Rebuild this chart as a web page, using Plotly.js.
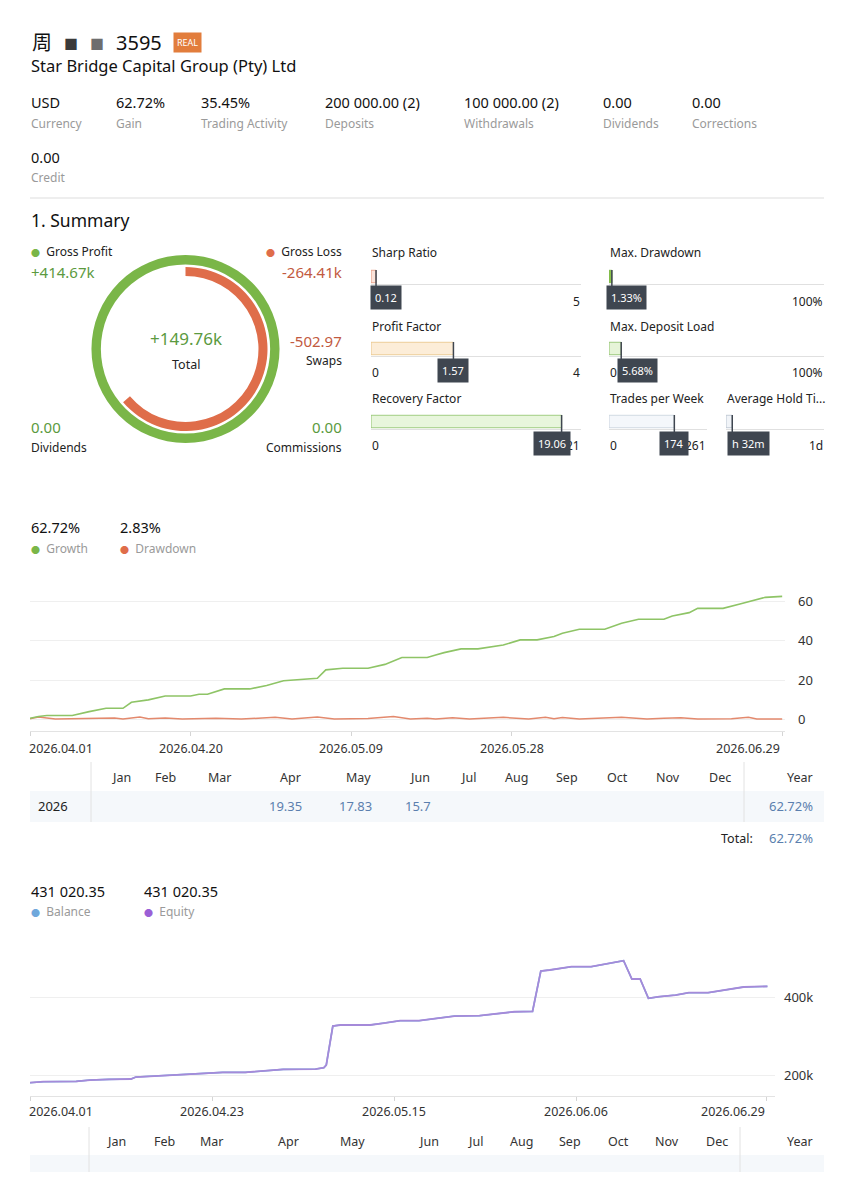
<!DOCTYPE html>
<html><head><meta charset="utf-8">
<script src="https://cdn.plot.ly/plotly-3.0.1.min.js"></script>
<style>html,body{margin:0;padding:0;background:#fff}#chart{width:854px;height:1200px}</style>
</head><body><div id="chart"></div>
<script>
// ---------- DATA ----------
const accountTitle = '3595';
const broker = 'Star Bridge Capital Group (Pty) Ltd';
const statValues = ['USD','62.72%','35.45%','200 000.00 (2)','100 000.00 (2)','0.00','0.00'];
const statLabels = ['Currency','Gain','Trading Activity','Deposits','Withdrawals','Dividends','Corrections'];
const creditValue = '0.00';

const grossProfit = 414.67;   // k
const grossLoss = 264.41;     // k
const totalText = '+149.76k';
const swapsText = '-502.97';
const dividendsText = '0.00';
const commissionsText = '0.00';

const metricNames  = ['Sharp Ratio','Max. Drawdown','Profit Factor','Max. Deposit Load','Recovery Factor','Trades per Week','Average Hold Ti...'];
const metricValues = [0.12, 1.33, 1.57, 5.68, 19.06, 174, 92];
const metricMax    = [5, 100, 4, 100, 21, 261, 1440];
const metricText   = ['0.12','1.33%','1.57','5.68%','19.06','174','h 32m'];
const metricMinLbl = ['','','0','0','0','0',''];
const metricMaxLbl = ['5','100%','4','100%','21','261','1d'];

const growthDates = ['2026-04-01','2026-04-02','2026-04-03','2026-04-06','2026-04-08','2026-04-10','2026-04-12','2026-04-13','2026-04-15','2026-04-17',
 '2026-04-20','2026-04-21','2026-04-22','2026-04-24','2026-04-27','2026-04-29','2026-05-01','2026-05-04','2026-05-05','2026-05-06',
 '2026-05-08','2026-05-11','2026-05-13','2026-05-15','2026-05-18','2026-05-19','2026-05-20','2026-05-22','2026-05-24','2026-05-27',
 '2026-05-29','2026-05-31','2026-06-02','2026-06-03','2026-06-05','2026-06-08','2026-06-10','2026-06-12','2026-06-15','2026-06-16',
 '2026-06-18','2026-06-19','2026-06-22','2026-06-24','2026-06-26','2026-06-27','2026-06-29'];
const growthValues = [0.5,1.4,1.9,1.9,3.9,5.6,5.6,8.7,9.9,11.9,
 11.9,12.8,12.8,15.5,15.5,17.2,19.7,20.4,20.9,25.2,
 26,26,28,31.5,31.5,32.8,34,35.9,35.9,37.9,
 40.5,40.5,42.2,43.9,45.9,45.9,49,51,51,52.7,
 54.4,56.6,56.6,58.8,60.9,62.2,62.7];

const drawdownDates = ['2026-04-01','2026-04-02','2026-04-04','2026-04-11','2026-04-12','2026-04-14','2026-04-15','2026-04-17','2026-04-19','2026-04-23',
 '2026-04-26','2026-04-30','2026-05-02','2026-05-05','2026-05-07','2026-05-11','2026-05-14','2026-05-16','2026-05-18','2026-05-19',
 '2026-05-21','2026-05-23','2026-05-27','2026-05-30','2026-06-01','2026-06-02','2026-06-03','2026-06-05','2026-06-10','2026-06-13',
 '2026-06-15','2026-06-17','2026-06-19','2026-06-23','2026-06-25','2026-06-26','2026-06-29'];
const drawdownValues = [0.3,1.2,0.1,0.6,0.1,1.2,0.3,0.7,0.1,0.5,
 0.1,1.0,0.1,1.2,0.2,0.4,1.4,0.1,0.5,0.1,
 0.8,0.1,1.0,0.1,1.0,0.3,0.9,0.1,1.1,0.1,
 0.5,0.8,0.1,0.3,1.0,0.1,0.1];
const growthTickDates = ['2026-04-01','2026-04-20','2026-05-09','2026-05-28','2026-06-29'];
const growthTickText  = ['2026.04.01','2026.04.20','2026.05.09','2026.05.28','2026.06.29'];
const growthYTicks = [0,20,40,60];

const months = ['Jan','Feb','Mar','Apr','May','Jun','Jul','Aug','Sep','Oct','Nov','Dec'];
const tableYear = '2026';
const monthGains = ['','','','19.35','17.83','15.7','','','','','',''];
const yearGain = '62.72%';
const totalGain = '62.72%';

const balanceText = '431 020.35';
const equityText = '431 020.35';
const balanceDates = ['2026-04-01 00:00','2026-04-02 15:00','2026-04-06 14:00','2026-04-08 06:00','2026-04-10 13:00','2026-04-13 05:00','2026-04-13 19:00','2026-04-15 12:00','2026-04-17 10:00','2026-04-20 10:00',
 '2026-04-22 10:00','2026-04-24 07:00','2026-04-27 00:00','2026-04-29 14:00','2026-05-01 14:00','2026-05-05 12:00','2026-05-06 12:00','2026-05-06 19:00','2026-05-07 14:00','2026-05-08 12:00',
 '2026-05-12 02:00','2026-05-13 19:00','2026-05-15 17:00','2026-05-18 00:00','2026-05-20 00:00','2026-05-22 07:00','2026-05-25 07:00','2026-05-27 14:00','2026-05-29 12:00','2026-05-31 17:00',
 '2026-06-01 17:00','2026-06-02 19:00','2026-06-04 02:00','2026-06-05 10:00','2026-06-07 19:00','2026-06-09 17:00','2026-06-11 17:00','2026-06-12 17:00','2026-06-13 17:00','2026-06-14 17:00',
 '2026-06-16 00:00','2026-06-18 00:00','2026-06-19 14:00','2026-06-21 22:00','2026-06-23 22:00','2026-06-26 05:00','2026-06-27 12:00','2026-06-29 02:00'];
const balanceValues = [182000,184600,185500,188900,190600,191500,196600,198300,201700,203400,
 205100,208500,208500,212800,216200,217100,220500,227400,327400,330000,
 330000,335000,341000,341000,346000,353000,353800,359800,364000,365000,
 468400,471000,475000,479500,479500,488000,494900,447900,447900,398300,
 402600,406800,412800,412800,419700,427400,428200,429000];
const equityValues = balanceValues.slice();
const balanceTickDates = ['2026-04-01','2026-04-23','2026-05-15','2026-06-06','2026-06-29'];
const balanceTickText  = ['2026.04.01','2026.04.23','2026.05.15','2026.06.06','2026.06.29'];
const balanceYTicks = [200000,400000];
const balanceYTickText = ['200k','400k'];

// ---------- HELPERS ----------
const W = 854, H = 1200;
const FONT = 'Noto Sans, Noto Sans CJK SC, sans-serif';
const GREEN = '#7ab648', ORANGE = '#df6d4a';
const GTXT = '#5b9a40', RTXT = '#c25a40', GREY = '#9a9a9a', BLUE = '#5b7fae';
const X = v => v / W, Y = v => 1 - v / H;
const ann = [], shp = [];
function T(x, y, text, size, color, anchor, extra) {
  ann.push(Object.assign({xref:'paper', yref:'paper', x:X(x), y:Y(y), text:text, showarrow:false,
    xanchor:anchor||'left', yanchor:'middle', font:{family:FONT, size:size, color:color}}, extra||{}));
}
function hline(x0, x1, y, color) {
  shp.push({type:'line', xref:'paper', yref:'paper', x0:X(x0), x1:X(x1), y0:Y(y), y1:Y(y), line:{color:color, width:1}, layer:'below'});
}
function vline(x, y0, y1, color) {
  shp.push({type:'line', xref:'paper', yref:'paper', x0:X(x), x1:X(x), y0:Y(y0), y1:Y(y1), line:{color:color, width:1}, layer:'below'});
}
function rect(x0, y0, x1, y1, fill) {
  shp.push({type:'rect', xref:'paper', yref:'paper', x0:X(x0), x1:X(x1), y0:Y(y1), y1:Y(y0), fillcolor:fill, line:{width:0}, layer:'below'});
}
const dot = c => '<span style="color:' + c + ';font-size:9px">●</span>  ';

// ---------- HEADER ----------
T(30, 42, '周', 20, '#111');
T(62, 44, '■', 14, '#3a3a3a');
T(88, 44, '■', 14, '#6e6e6e');
T(114, 42, accountTitle, 20, '#111');
T(187, 42, 'REAL', 9, '#fff', 'center', {bgcolor:'#e27d3c', borderpad:3});
T(29, 65, broker, 16.5, '#111');
const statX = [30,115,200,324,463,602,691];
statValues.forEach((v,i) => T(statX[i]-1, 102, v, 14.5, '#111'));
statLabels.forEach((v,i) => T(statX[i]-1, 123, v, 12, GREY));
T(29, 157, creditValue, 14.5, '#111');
T(29, 178, 'Credit', 12, GREY);
hline(30, 824, 198, '#dddddd');
T(29, 220, '1. Summary', 17.5, '#111');

// ---------- SUMMARY ----------
T(29, 252, dot(GREEN) + 'Gross Profit', 12, '#222');
T(29, 272, '+' + grossProfit + 'k', 15, GTXT);
T(344, 252, dot(ORANGE) + 'Gross Loss', 12, '#222', 'right');
T(344, 272, '-' + grossLoss + 'k', 15, RTXT, 'right');
T(186, 339, totalText, 17, GTXT, 'center');
T(186, 364, 'Total', 12.5, '#222', 'center');
T(344, 341, swapsText, 15, RTXT, 'right');
T(344, 361, 'Swaps', 12, '#222', 'right');
T(29, 427, dividendsText, 15, GTXT);
T(29, 448, 'Dividends', 12, '#222');
T(344, 427, commissionsText, 15, GTXT, 'right');
T(344, 448, 'Commissions', 12, '#222', 'right');

const cx = 185.5, cy = 349;
const traces = [];
traces.push({type:'pie', values:[grossProfit], labels:['Gross Profit'], marker:{colors:[GREEN], line:{width:0}},
  hole:0.9, sort:false, direction:'clockwise', rotation:0, textinfo:'none', hoverinfo:'skip', showlegend:false,
  domain:{x:[X(cx-94), X(cx+94)], y:[Y(cy+94), Y(cy-94)]}});
traces.push({type:'pie', values:[grossLoss, grossProfit-grossLoss], labels:['Gross Loss','rest'],
  marker:{colors:[ORANGE,'rgba(0,0,0,0)'], line:{width:0}},
  hole:0.89, sort:false, direction:'clockwise', rotation:0, textinfo:'none', hoverinfo:'skip', showlegend:false,
  domain:{x:[X(cx-82), X(cx+82)], y:[Y(cy+82), Y(cy-82)]}});

// ---------- METRIC BARS ----------
const boxes = [ // x0,x1,y0,y1 (bar box)
  [371,581,270,283],[609,824,270,283],[371,581,342,355],[609,824,342,355],[371,581,415,428],[609,707,415,428],[726,824,415,428]];
const titlePos = [[371,253],[609,253],[371,326],[609,326],[371,398],[609,398],[726,398]];
const barFill = ['#fbe3da','#8bc34a','#fcedd8','#e6f4d8','#e8f6dc','#f4f7fb','#f1f4f8'];
const barLine = ['#e59a80','#7ab648','#e9c587','#8bbf68','#8fc26c','#c8d2dd','#b9c3cf'];
const tipShift = [10, 15, 0, 16, -10, 0, 16];
const layout = {width:W, height:H, margin:{l:0,r:0,t:0,b:0}, paper_bgcolor:'#fff', plot_bgcolor:'rgba(0,0,0,0)',
  showlegend:false, font:{family:FONT}};
boxes.forEach((b,i) => {
  const n = i + 3;
  T(titlePos[i][0]-1, titlePos[i][1], metricNames[i], 12, '#222');
  layout['xaxis'+n] = {domain:[X(b[0]), X(b[1])], range:[0, metricMax[i]], anchor:'y'+n, showgrid:false, zeroline:false,
    showticklabels:false, ticks:'', showline:true, linecolor:'#e0e0e0', linewidth:1, fixedrange:true};
  layout['yaxis'+n] = {domain:[Y(b[3]+0.5), Y(b[2]-0.5)], range:[-0.55,0.55], anchor:'x'+n, visible:false, fixedrange:true};
  traces.push({type:'bar', orientation:'h', x:[metricValues[i]], y:[0], width:[1], xaxis:'x'+n, yaxis:'y'+n,
    marker:{color:barFill[i], line:{color:barLine[i], width:1}}, hoverinfo:'skip'});
  const rowY = b[3] + 18;
  if (metricMinLbl[i]) T(b[0]-1, rowY, metricMinLbl[i], 12, '#222');
  T(b[1]+1, rowY, metricMaxLbl[i], 12, '#222', 'right');
  shp.push({type:'line', xref:'x'+n, yref:'paper', x0:metricValues[i], x1:metricValues[i], y0:Y(b[2]), y1:Y(b[3]+6),
    line:{color:'#3f4650', width:1.5}});
  ann.push({xref:'x'+n, yref:'paper', x:metricValues[i], y:Y(rowY-3), xshift:tipShift[i], text:metricText[i], showarrow:false,
    xanchor:'center', yanchor:'middle', bgcolor:'#3f4650', borderpad:4, font:{family:FONT, size:11, color:'#fff'}});
});

// ---------- GROWTH CHART ----------
T(29, 527, '62.72%', 14.5, '#111');
T(118, 527, '2.83%', 14.5, '#111');
T(29, 548, dot(GREEN) + 'Growth', 12, GREY);
T(118, 548, dot(ORANGE) + 'Drawdown', 12, GREY);
layout.xaxis = {domain:[X(30), X(785)], anchor:'y', type:'date', range:['2026-04-01','2026-06-29 08:00'],
  tickvals:growthTickDates, showticklabels:false, ticks:'outside', ticklen:4, tickcolor:'#d5d5d5',
  showgrid:false, zeroline:false, showline:true, linecolor:'#e3e3e3', fixedrange:true};
layout.yaxis = {domain:[Y(731), Y(585)], anchor:'x', side:'right', range:[-5.97, 68.5], tickvals:growthYTicks,
  gridcolor:'#efefef', zeroline:false, showline:false, ticks:'', ticklabelstandoff:12,
  tickfont:{family:FONT, size:13, color:'#333'}, fixedrange:true};
traces.push({type:'scatter', mode:'lines', x:drawdownDates, y:drawdownValues, xaxis:'x', yaxis:'y',
  line:{color:'#e3896d', width:1.5}, hoverinfo:'skip'});
traces.push({type:'scatter', mode:'lines', x:growthDates, y:growthValues, xaxis:'x', yaxis:'y',
  line:{color:'#8ec466', width:1.6}, hoverinfo:'skip'});
growthTickDates.forEach((d,i) => {
  const last = i === growthTickDates.length-1, first = i === 0;
  ann.push({xref:'x', yref:'paper', x:d, y:Y(748), text:growthTickText[i], showarrow:false,
    xanchor: first ? 'left' : (last ? 'right' : 'center'), xshift: first ? -3 : 0, yanchor:'middle',
    font:{family:FONT, size:12.5, color:'#333'}});
});

// ---------- MONTHLY TABLE ----------
const mRight1 = [133,178,234,303,373,432,478,530,580,630,682,733];
rect(30, 791, 824, 822, '#f5f8fb');
vline(91, 762, 822, '#e2e2e2');
vline(744, 762, 822, '#e2e2e2');
months.forEach((m,i) => T(mRight1[i], 777, m, 12.5, '#333', 'right'));
T(815, 777, 'Year', 12.5, '#333', 'right');
T(36, 806, tableYear, 13, '#222');
monthGains.forEach((v,i) => { if (v) T(mRight1[i]+1, 806, v, 13, BLUE, 'right'); });
T(815, 806, yearGain, 13, BLUE, 'right');
T(755, 838, 'Total:', 12.5, '#222', 'right');
T(815, 838, totalGain, 13, BLUE, 'right');

// ---------- BALANCE CHART ----------
T(29, 891, balanceText, 14.5, '#111');
T(142, 891, equityText, 14.5, '#111');
T(29, 911, dot('#6fa8dc') + 'Balance', 12, GREY);
T(142, 911, dot('#9b5fd6') + 'Equity', 12, GREY);
layout.xaxis2 = {domain:[X(30), X(775)], anchor:'y2', type:'date', range:['2026-04-01','2026-06-30'],
  tickvals:balanceTickDates, showticklabels:false, ticks:'outside', ticklen:4, tickcolor:'#d5d5d5',
  showgrid:false, zeroline:false, showline:true, linecolor:'#e3e3e3', fixedrange:true};
layout.yaxis2 = {domain:[Y(1096), Y(940)], anchor:'x2', side:'right', range:[147950, 547940], tickvals:balanceYTicks,
  ticktext:balanceYTickText, gridcolor:'#efefef', zeroline:false, showline:false, ticks:'', ticklabelstandoff:8,
  tickfont:{family:FONT, size:13, color:'#333'}, fixedrange:true};
traces.push({type:'scatter', mode:'lines', x:balanceDates, y:balanceValues, xaxis:'x2', yaxis:'y2',
  line:{color:'#6fa8dc', width:1.6}, hoverinfo:'skip'});
traces.push({type:'scatter', mode:'lines', x:balanceDates, y:equityValues, xaxis:'x2', yaxis:'y2',
  line:{color:'#a58ad9', width:1.8}, hoverinfo:'skip'});
balanceTickDates.forEach((d,i) => {
  const last = i === balanceTickDates.length-1, first = i === 0;
  ann.push({xref:'x2', yref:'paper', x:d, y:Y(1111), text:balanceTickText[i], showarrow:false,
    xanchor: first ? 'left' : (last ? 'right' : 'center'), xshift: first ? -3 : 0, yanchor:'middle',
    font:{family:FONT, size:12.5, color:'#333'}});
});
const mRight2 = [128,177,226,301,367,441,485,535,583,631,681,730];
rect(30, 1155, 824, 1172, '#f5f8fb');
vline(89, 1127, 1172, '#e2e2e2');
vline(740, 1127, 1172, '#e2e2e2');
months.forEach((m,i) => T(mRight2[i], 1141, m, 12.5, '#333', 'right'));
T(815, 1141, 'Year', 12.5, '#333', 'right');

layout.annotations = ann;
layout.shapes = shp;
Plotly.newPlot('chart', traces, layout, {displayModeBar:false, staticPlot:true});
</script></body></html>
